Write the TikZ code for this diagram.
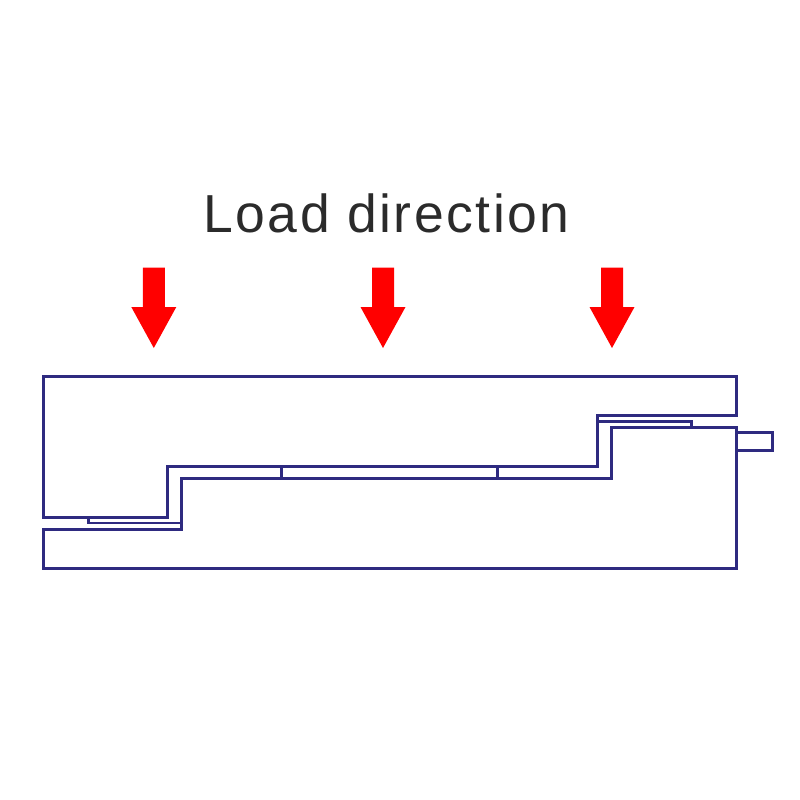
\documentclass[tikz,border=0pt]{standalone}
\usepackage{fontspec}
\setmainfont[LetterSpace=4.7]{Liberation Sans}
\definecolor{plate}{HTML}{2E2A80}
\definecolor{loadred}{HTML}{FF0000}
\definecolor{labelgrey}{HTML}{2B2B2B}
\tikzset{
  plateline/.style={draw=plate,line width=3pt,line join=miter},
  padline/.style={draw=plate,line width=2.6pt},
  loadarrow/.pic={\fill[loadred] (-11,0) -- (11,0) -- (11,39.5) -- (22.5,39.5) -- (0,80.5) -- (-22.5,39.5) -- (-11,39.5) -- cycle;}
}
\begin{document}
\begin{tikzpicture}[x=1pt,y=-1pt]
\useasboundingbox (0,0) rectangle (800,800);
\node[text=labelgrey,font=\fontsize{53.5}{60}\selectfont,anchor=base] (title) at (386.5,232.5) {Load direction};
\pic at (153.8,267.5) {loadarrow};
\pic at (383,267.5) {loadarrow};
\pic at (612,267.5) {loadarrow};
% pads
\draw[padline] (88.5,517) -- (88.5,523) -- (181.7,523);
\draw[padline] (597.5,421.3) -- (691.5,421.3) -- (691.5,427.3);
\draw[padline] (281.7,466) -- (281.7,478);
\draw[padline] (497.7,466) -- (497.7,478);
% upper plate
\draw[plateline] (43,376.8) -- (736.5,376.8) -- (736.5,415.3) -- (597.5,415.3) -- (597.5,466.3) -- (167.8,466.3) -- (167.8,517) -- (43,517) -- cycle;
% lower plate
\draw[plateline] (43,529) -- (181.7,529) -- (181.7,478) -- (611.7,478) -- (611.7,427.3) -- (736.5,427.3) -- (736.5,568) -- (43,568) -- cycle;
% stub
\draw[plateline] (736.5,432) -- (772.7,432) -- (772.7,450) -- (736.5,450);
\end{tikzpicture}
\end{document}
